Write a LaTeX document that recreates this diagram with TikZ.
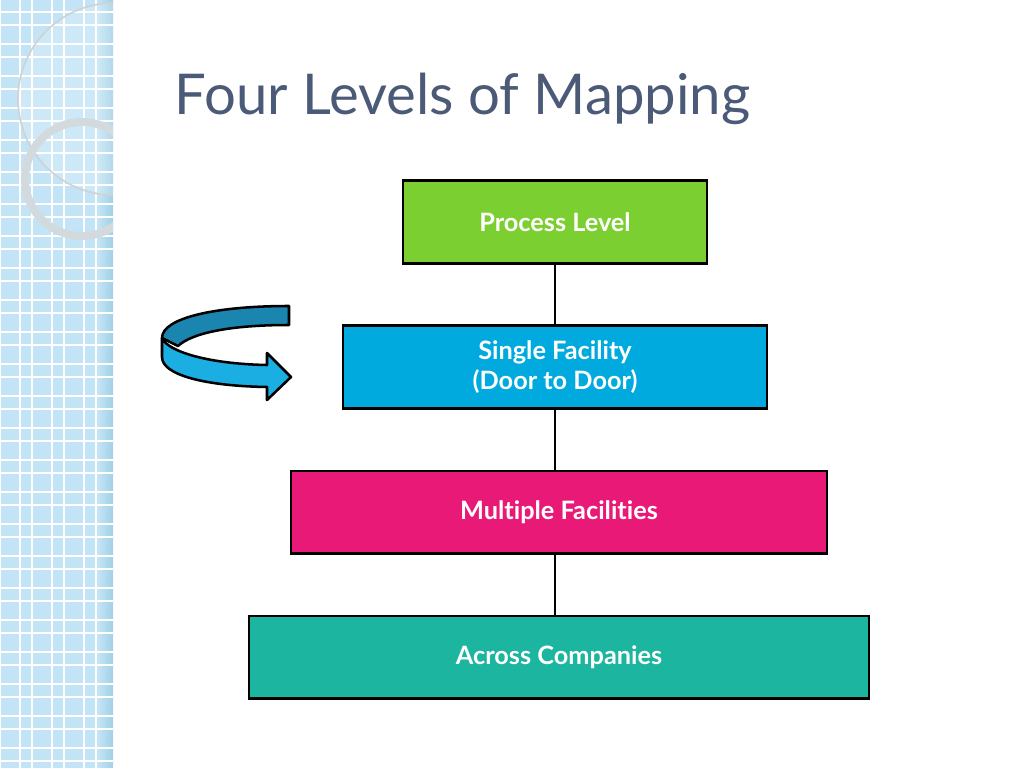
\documentclass[tikz,border=0pt]{standalone}
\usepackage{fontspec}
\setmainfont{Lato}[Ligatures=NoCommon]
\usepackage{xcolor}
\usetikzlibrary{positioning}
\definecolor{SideBlue}{HTML}{C2E4F6}
\definecolor{SideEdge}{HTML}{A3CFE6}
\definecolor{RingGray}{HTML}{D3DADE}
\definecolor{TitleSlate}{HTML}{4A5A77}
\definecolor{LevelGreen}{HTML}{7CCF30}
\definecolor{LevelBlue}{HTML}{00A9DE}
\definecolor{LevelMagenta}{HTML}{E91A77}
\definecolor{LevelTeal}{HTML}{1CB59F}
\definecolor{TurnBack}{HTML}{1A86B0}
\definecolor{TurnFront}{HTML}{1BAEE3}

\begin{document}
\begin{tikzpicture}[x=0.025cm, y=-0.025cm, node distance=3.625cm, on grid, level/.style={rectangle, draw=black, line width=1.9pt, minimum height=2.06cm, text=white, font=\bfseries\fontsize{18}{21.5}\selectfont, align=center}]

    \useasboundingbox (0,0) rectangle (1024,768);

    % side bar
    \fill[SideBlue] (0,0) rectangle (113,768);
    \shade[left color=SideBlue, right color=SideEdge] (98,0) rectangle (113,768);
    \foreach \gx in {0,32,...,96} {
        \draw[white, line width=0.9pt] (\gx,0) -- (\gx,768);
        \draw[white, line width=0.9pt] (\gx+20,0) -- (\gx+20,768);
    }
    \foreach \gy in {12,44,...,780} {
        \draw[white, line width=0.9pt] (0,\gy) -- (113,\gy);
        \draw[white, line width=0.9pt] (0,\gy+13) -- (113,\gy+13);
    }
    \begin{scope}
        \clip (0,0) rectangle (113,768);
        \fill[white, opacity=0.18] (114,99) circle[radius=96];
        \draw[white!65!gray, line width=1.2pt] (114,99) circle[radius=96];
        \draw[RingGray, line width=5.7pt] (82,179) circle[radius=57];
    \end{scope}

    % title
    \node[anchor=base west, text=TitleSlate, font=\fontsize{40}{46}\selectfont] (title) at (170,115) {Four Levels of Mapping};

    % levels
    \node[level, fill=LevelGreen, minimum width=7.6cm] (P) at (555,222) {Process Level};
    \node[level, fill=LevelBlue, minimum width=10.6cm, below=of P] (S) {Single Facility\\(Door to Door)};
    \node[level, fill=LevelMagenta, minimum width=13.4cm, below=of S, xshift=0.1cm] (M) {Multiple Facilities};
    \node[level, fill=LevelTeal, minimum width=15.5cm, below=of M] (A) {Across Companies};

    \draw[line width=1.7pt] (P) -- (S);
    \draw[line width=1.7pt] (S) -- (M.north -| S.south);
    \draw[line width=1.7pt] (M.south -| S.south) -- (A.north -| S.south);

    % turning arrow
    \filldraw[fill=TurnBack, draw=black, line width=1.8pt, line join=round]
        (289,306) .. controls (215,306) and (162,318) .. (162,338)
        -- (178,346) .. controls (192,333) and (230,325) .. (289,325) -- cycle;
    \filldraw[fill=TurnFront, draw=black, line width=1.8pt, line join=round]
        (162,338) .. controls (168,352) and (210,364) .. (267,365)
        -- (267,353) -- (291,377) -- (267,400) -- (267,387)
        .. controls (205,386) and (162,375) .. (162,357) -- cycle;

\end{tikzpicture}
\end{document}
